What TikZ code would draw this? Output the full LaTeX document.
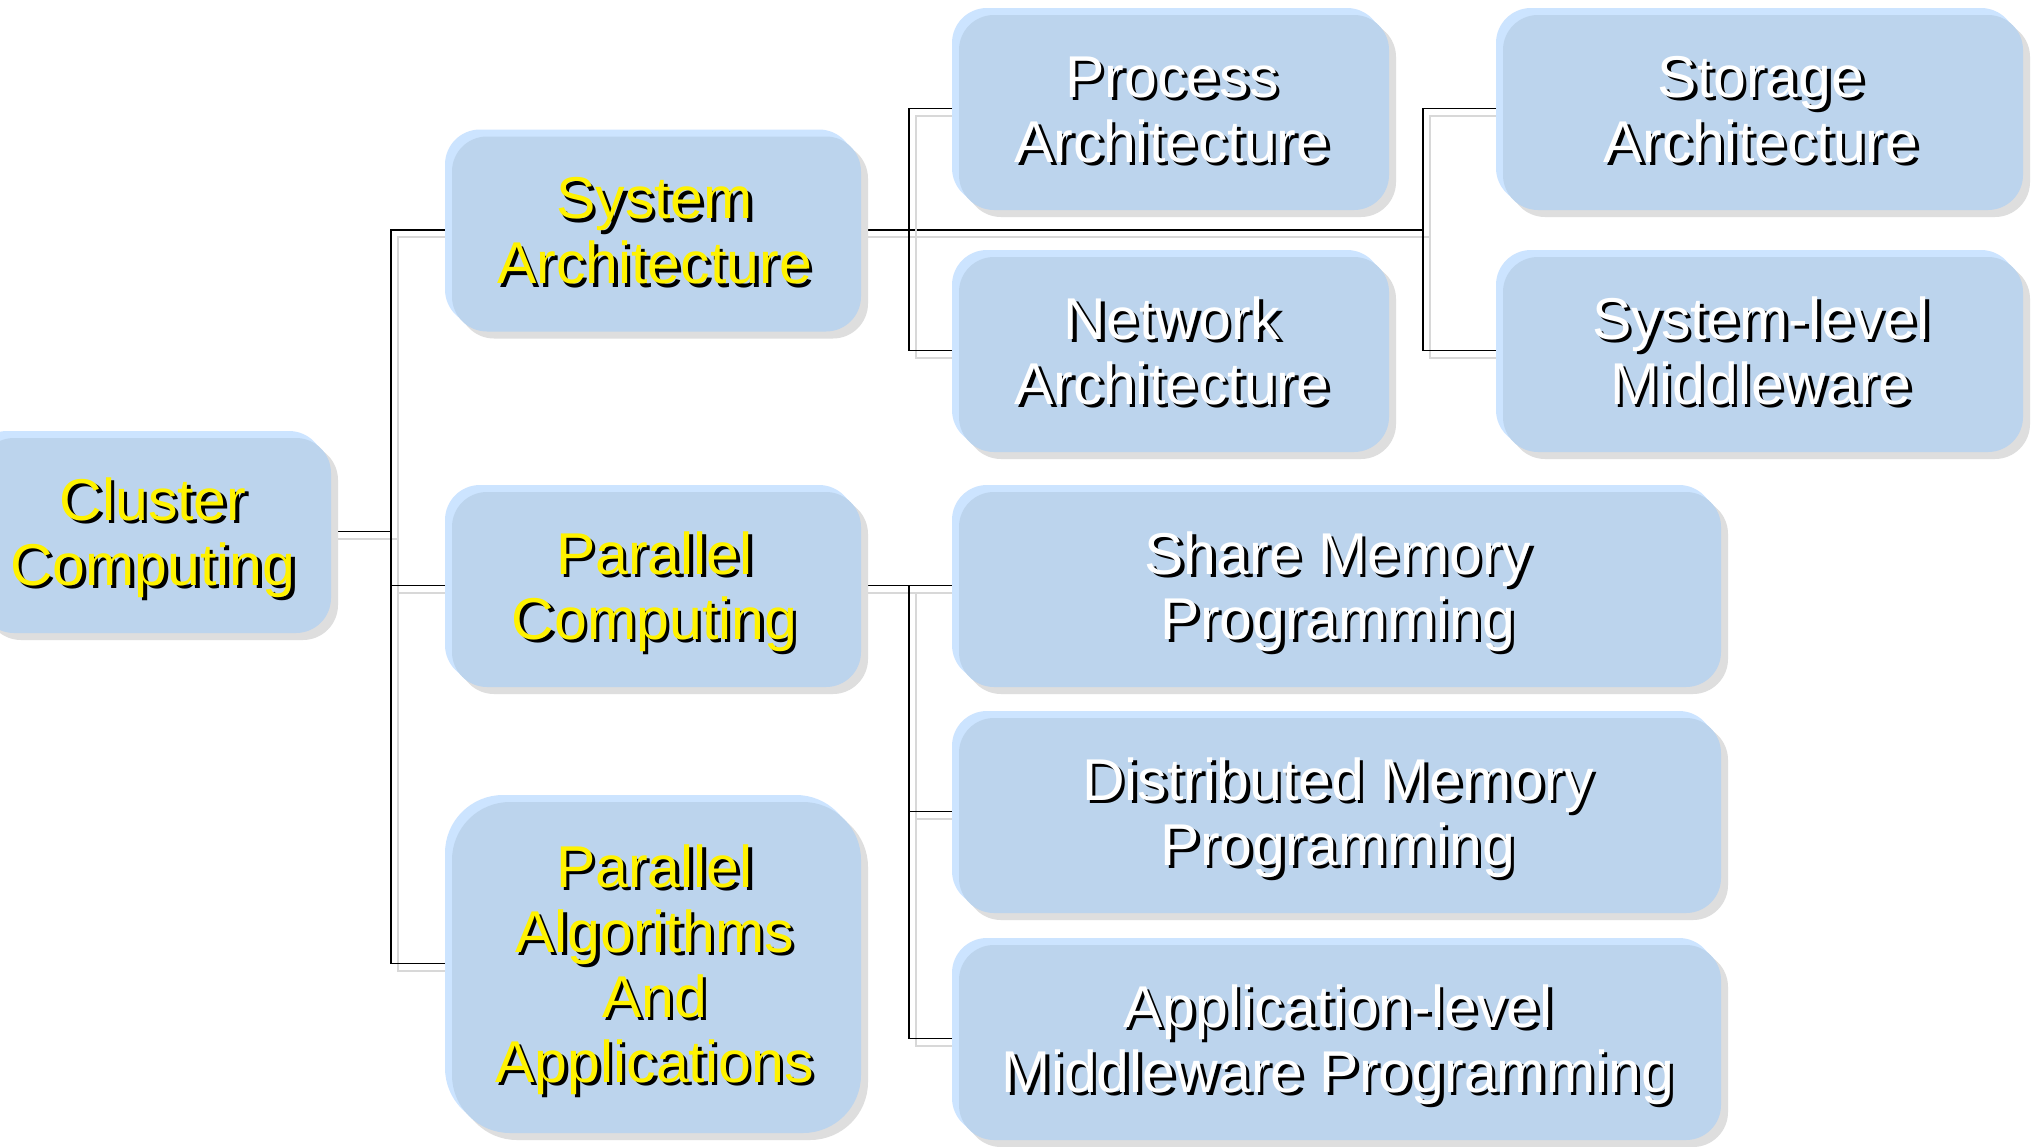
\documentclass[tikz,border=0pt]{standalone}
\usepackage{fontspec}
\setmainfont{Liberation Sans}
\usetikzlibrary{calc}
\definecolor{mainblue}{RGB}{188,212,237}
\definecolor{hiblue}{RGB}{204,228,255}
\definecolor{shgrey}{RGB}{222,222,222}
\definecolor{lngrey}{RGB}{216,216,216}
\pgfdeclarelayer{bg}
\pgfsetlayers{bg,main}
\newcommand\shtxt[1]{\kern-4pt\raisebox{-4pt}[\height][\depth]{\rlap{\hspace{3.5pt}\raisebox{-3.5pt}[0pt][0pt]{\color{black}\begin{tabular}{@{}c@{}}#1\end{tabular}}}\begin{tabular}{@{}c@{}}#1\end{tabular}}}
\begin{document}
\begin{tikzpicture}[x=1pt,y=-1pt,
  box/.style={rectangle, inner sep=0pt, rounded corners=35pt, fill=mainblue,
    minimum height=195pt, font=\fontsize{59}{65}\selectfont, text=white,
    preaction={fill=hiblue, transform canvas={xshift=-7pt,yshift=7pt}},
    preaction={fill=shgrey, transform canvas={xshift=7pt,yshift=-7pt}}},
  topbox/.style={box, text=yellow},
  conn/.style={draw=black, line width=1.5pt,
    preaction={draw=lngrey, line width=2pt, transform canvas={xshift=7pt,yshift=-7pt}}}
]
\useasboundingbox (0,0) rectangle (2031,1146);
\node[topbox, minimum width=352pt] (cc) at (155,535.5) {\shtxt{Cluster\\Computing}};
\node[topbox, minimum width=409pt] (sa) at (656.5,234) {\shtxt{System\\Architecture}};
\node[topbox, minimum width=409pt] (pc) at (656.5,589.5) {\shtxt{Parallel\\Computing}};
\node[topbox, minimum width=409pt, minimum height=331pt, rounded corners=58pt] (pa) at (656.5,967.5) {\shtxt{Parallel\\Algorithms\\And\\Applications}};
\node[box, minimum width=430pt] (pr) at (1174,112.5) {\shtxt{Process\\Architecture}};
\node[box, minimum width=430pt] (nw) at (1174,354.5) {\shtxt{Network\\Architecture}};
\node[box, minimum width=520pt] (st) at (1763,112.5) {\shtxt{Storage\\Architecture}};
\node[box, minimum width=520pt] (sm) at (1763,354.5) {\shtxt{System-level\\Middleware}};
\node[box, minimum width=762pt] (sh) at (1340,589.5) {\shtxt{Share Memory\\Programming}};
\node[box, minimum width=762pt] (di) at (1340,815.5) {\shtxt{Distributed Memory\\Programming}};
\node[box, minimum width=762pt] (ap) at (1340,1042.5) {\shtxt{Application-level\\Middleware Programming}};
\coordinate (t1) at (391,0);
\coordinate (t2) at (909,0);
\coordinate (t3) at (1423,0);
\begin{pgfonlayer}{bg}
\fill[white] (0,0) rectangle (2031,1146);
\draw[conn] ([yshift=4pt]cc.east) -- ([yshift=4pt]cc.east -| t1);
\draw[conn] ([yshift=4pt]sa.west) -- ([yshift=4pt]sa.west -| t1) -- ([yshift=4pt]pa.west -| t1) -- ([yshift=4pt]pa.west);
\draw[conn] ([yshift=4pt]pc.west) -- ([yshift=4pt]pc.west -| t1);
\draw[conn] ([yshift=4pt]sa.east) -- ([yshift=4pt]sa.east -| t3);
\draw[conn] ([yshift=4pt]pr.west) -- ([yshift=4pt]pr.west -| t2) -- ([yshift=4pt]nw.west -| t2) -- ([yshift=4pt]nw.west);
\draw[conn] ([yshift=4pt]st.west) -- ([yshift=4pt]st.west -| t3) -- ([yshift=4pt]sm.west -| t3) -- ([yshift=4pt]sm.west);
\draw[conn] ([yshift=4pt]pc.east) -- ([yshift=4pt]sh.west);
\draw[conn] ([yshift=4pt]pc.east -| t2) -- ([yshift=4pt]ap.west -| t2) -- ([yshift=4pt]ap.west);
\draw[conn] ([yshift=4pt]di.west -| t2) -- ([yshift=4pt]di.west);
\end{pgfonlayer}
\end{tikzpicture}
\end{document}
